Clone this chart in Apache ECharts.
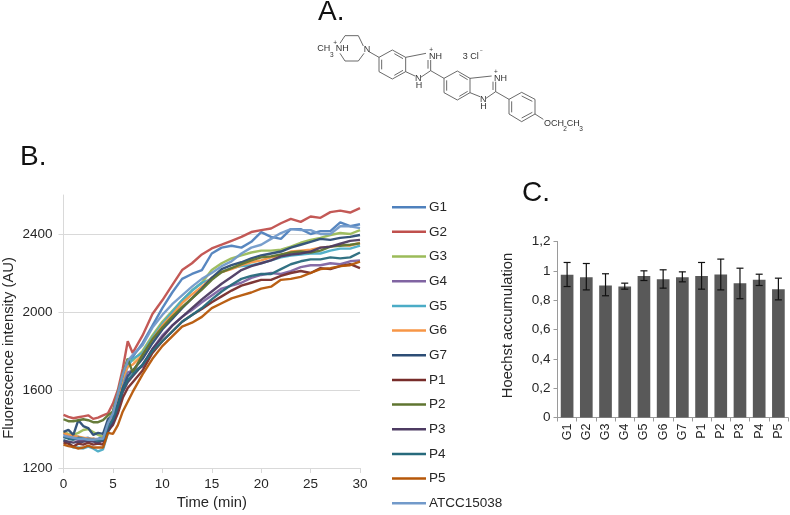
<!DOCTYPE html>
<html><head><meta charset="utf-8">
<style>html,body{margin:0;padding:0;background:#fff}#c{width:790px;height:515px}</style>
<script src="https://cdn.jsdelivr.net/npm/echarts@6/dist/echarts.min.js"></script>
</head><body><div id="c"></div>
<script>
const times=[0,.5,1,1.5,2,2.5,3,3.5,4,4.5,5,5.5,6,6.5,7,8,9,10,11,12,13,14,15,16,17,18,19,20,21,22,23,24,25,26,27,28,29,30];
const G1=[1375,1368,1362,1360,1352,1355,1345,1350,1358,1425,1475,1570,1670,1740,1770,1840,1930,2020,2100,2170,2195,2215,2300,2330,2340,2330,2360,2410,2385,2375,2425,2425,2400,2415,2415,2460,2440,2450];
const G2=[1472,1462,1455,1460,1465,1470,1452,1458,1470,1480,1530,1600,1710,1850,1790,1880,1990,2060,2138,2215,2250,2295,2326,2345,2365,2385,2410,2420,2428,2455,2478,2462,2490,2483,2512,2520,2510,2533];
const G3=[1385,1375,1370,1380,1395,1400,1385,1370,1360,1440,1490,1580,1680,1760,1750,1800,1880,1950,2005,2060,2110,2150,2215,2250,2275,2290,2305,2315,2315,2320,2335,2355,2370,2380,2395,2405,2400,2420];
const G4=[1360,1355,1350,1345,1345,1340,1350,1345,1350,1425,1470,1550,1640,1690,1700,1720,1810,1880,1930,1975,2010,2050,2085,2120,2135,2150,2175,2190,2200,2195,2210,2230,2240,2240,2250,2245,2260,2265];
const G5=[1345,1330,1305,1305,1300,1310,1300,1285,1295,1380,1440,1550,1650,1720,1760,1790,1870,1940,2000,2060,2110,2150,2170,2205,2225,2235,2240,2250,2265,2280,2290,2295,2300,2300,2315,2325,2325,2340];
const G6=[1380,1370,1365,1360,1355,1350,1350,1345,1350,1430,1475,1560,1660,1720,1730,1780,1860,1930,1985,2045,2090,2130,2175,2205,2220,2240,2255,2265,2280,2290,2310,2315,2320,2330,2335,2345,2340,2355];
const G7=[1385,1395,1370,1445,1415,1405,1370,1380,1375,1450,1470,1530,1610,1670,1700,1760,1840,1910,1965,2020,2070,2120,2175,2220,2240,2255,2275,2290,2300,2310,2330,2345,2360,2375,2370,2380,2385,2395];
const P1=[1330,1325,1310,1325,1320,1330,1320,1325,1320,1390,1420,1480,1560,1610,1640,1700,1790,1850,1900,1950,1985,2015,2050,2080,2110,2135,2150,2165,2165,2185,2200,2210,2200,2225,2220,2235,2245,2225];
const P2=[1450,1440,1440,1445,1450,1445,1435,1435,1445,1470,1490,1580,1680,1760,1690,1780,1860,1920,1975,2025,2070,2115,2165,2205,2225,2245,2265,2280,2285,2295,2305,2310,2305,2315,2335,2340,2345,2352];
const P3=[1340,1335,1330,1335,1335,1340,1335,1330,1340,1395,1430,1510,1590,1640,1670,1730,1810,1870,1930,1975,2020,2065,2105,2145,2180,2215,2235,2250,2265,2285,2295,2300,2310,2330,2335,2350,2365,2370];
const P4=[1360,1350,1345,1355,1350,1345,1345,1340,1345,1410,1450,1520,1600,1650,1680,1730,1800,1850,1900,1950,1985,2020,2065,2105,2140,2170,2185,2195,2195,2220,2245,2260,2270,2270,2280,2275,2280,2305];
const P5=[1320,1312,1308,1300,1305,1315,1305,1305,1305,1380,1375,1420,1490,1540,1590,1680,1760,1825,1875,1925,1945,1975,2020,2045,2070,2085,2100,2120,2130,2165,2170,2180,2200,2220,2225,2235,2240,2258];
const ATCC=[1365,1360,1355,1350,1350,1345,1345,1348,1350,1430,1480,1580,1680,1750,1780,1830,1920,1985,2040,2085,2130,2170,2200,2235,2260,2300,2330,2345,2375,2405,2425,2420,2420,2400,2400,2440,2440,2430];
const lineNames=['G1','G2','G3','G4','G5','G6','G7','P1','P2','P3','P4','P5','ATCC15038'];
const lineValues=[G1,G2,G3,G4,G5,G6,G7,P1,P2,P3,P4,P5,ATCC];
const lineColors=['#4F81BD','#C0504D','#9BBB59','#8064A2','#4BACC6','#F79646','#2C4D75','#772C2A','#5F7530','#4D3B62','#276A7C','#B65708','#729ACA'];
const yTicks=[1200,1600,2000,2400];
const barCats=['G1','G2','G3','G4','G5','G6','G7','P1','P2','P3','P4','P5'];
const barVals=[.973,.957,.90,.893,.965,.943,.957,.965,.975,.916,.939,.875];
const errHi=[1.057,1.05,.98,.916,1.0,1.007,.993,1.057,1.08,1.018,.977,.95];
const errLo=[.893,.87,.83,.875,.934,.882,.925,.875,.87,.81,.9,.802];

const FONT='"Liberation Sans",Arial,sans-serif';
const lineSeries=lineNames.map((n,i)=>({name:n,type:'line',xAxisIndex:0,yAxisIndex:0,symbol:'none',smooth:false,
  data:times.map((t,k)=>[t,lineValues[i][k]]),lineStyle:{width:2.4,color:lineColors[i],opacity:.95},itemStyle:{color:lineColors[i]},z:3+i}));

// Structure drawing for panel A (coordinates in a 3x sketch space)
const bonds=[[[120,130],[135,107],[175,107],[190,138]],[[192,160],[175,183],[135,183],[120,160]],[[207,155],[237,172]],
[[237,172],[277,150],[317,172],[317,215],[277,237],[237,215],[237,172]],[[283,161],[309,176]],[[309,211],[283,226]],[[245,208],[245,179]],
[[317,172],[378,160]],[[317,215],[345,228]],[[362,232],[392,212]],[[392,212],[392,180]],[[384,206],[384,180]],[[392,212],[432,235]],
[[432,235],[472,213],[510,235],[510,278],[472,300],[432,278],[432,235]],[[478,224],[503,239]],[[503,274],[478,289]],[[440,272],[440,241]],
[[510,235],[575,228]],[[510,278],[540,290]],[[558,295],[587,275]],[[587,275],[587,245]],[[579,270],[579,245]],[[587,275],[627,298]],
[[627,298],[665,277],[705,298],[705,342],[665,365],[627,342],[627,298]],[[665,288],[697,304]],[[697,337],[665,354]],[[635,337],[635,304]],[[705,342],[730,358]]];
const atoms=[['CH',52,147],['3',90,165,6.5],['+',100,130,6.5],['NH',107,147],['N',191,150],['+',388,150,6.5],['NH',387,170],['N',345,236],['H',347,258],
['3 Cl',488,170],['−',540,152,5],['+',582,217,6.5],['NH',582,237],['N',540,298],['H',541,320],['OCH',732,372],['2',790,388,6.5],['CH',800,372],['3',838,388,6.5]];
const molecule=[
 ...bonds.map(b=>({type:'polyline',shape:{points:b.map(p=>[300+p[0]/3,p[1]/3])},style:{stroke:'#444',lineWidth:.8,fill:null}})),
 ...atoms.map(a=>({type:'text',x:300+a[1]/3,y:a[2]/3,style:{text:a[0],font:(a[3]||9)+'px '+FONT,fill:'#333',textVerticalAlign:'middle'}}))
];
const panel=(t,x,y)=>({type:'text',x,y,style:{text:t,font:'28px '+FONT,fill:'#111',textVerticalAlign:'middle'}});

const axisC='#d9d9d9',txt='#262626';
const option={
 animation:false,backgroundColor:'#fff',textStyle:{fontFamily:FONT},
 legend:{data:lineNames,orient:'vertical',left:392,top:199.7,height:320,padding:0,itemWidth:34,itemHeight:2.5,itemGap:9.67,icon:'rect',
  selectedMode:false,textStyle:{fontSize:13.5,lineHeight:15,color:txt,fontFamily:FONT,padding:[0,0,0,-2]}},
 grid:[{left:63.5,top:195,width:296.5,height:273,outerBoundsMode:'none'},{left:557.5,top:241.5,width:230.5,height:176,outerBoundsMode:'none'}],
 xAxis:[
  {gridIndex:0,type:'value',min:0,max:30,interval:5,name:'Time (min)',nameLocation:'middle',nameGap:27,
   nameTextStyle:{fontSize:14.8,color:txt,fontFamily:FONT},splitLine:{show:false},
   axisLine:{lineStyle:{color:axisC}},axisTick:{show:true,length:5,lineStyle:{color:axisC}},axisLabel:{fontSize:13.5,color:txt,margin:9,fontFamily:FONT}},
  {gridIndex:1,type:'category',data:barCats,axisLine:{lineStyle:{color:'#9a9a9a'}},axisTick:{show:true,length:4,alignWithLabel:false,lineStyle:{color:'#9a9a9a'}},
   axisLabel:{fontSize:12.5,color:txt,rotate:90,margin:6,interval:0,fontFamily:FONT}}
 ],
 yAxis:[
  {gridIndex:0,type:'value',min:1200,max:2600,name:'Fluorescence intensity (AU)',nameLocation:'middle',nameGap:47,
   nameTextStyle:{fontSize:14.8,color:txt,fontFamily:FONT,padding:[0,33,0,0]},
   splitLine:{show:true,lineStyle:{color:axisC}},axisLine:{show:true,lineStyle:{color:axisC}},
   axisTick:{show:true,length:5,customValues:yTicks,lineStyle:{color:axisC}},
   axisLabel:{fontSize:13.5,color:txt,margin:11,customValues:yTicks,fontFamily:FONT,formatter:v=>String(v)}},
  {gridIndex:1,type:'value',min:0,max:1.2,interval:.2,name:'Hoechst accumulation',nameLocation:'middle',nameGap:42,
   nameTextStyle:{fontSize:14.8,color:txt,fontFamily:FONT,padding:[0,0,0,8]},splitLine:{show:false},
   axisLine:{show:true,lineStyle:{color:'#9a9a9a'}},axisTick:{show:true,length:4,lineStyle:{color:'#9a9a9a'}},
   axisLabel:{fontSize:13.5,color:txt,margin:7,fontFamily:FONT,formatter:v=>String(+v.toFixed(1)).replace('.',',')}}
 ],
 series:[...lineSeries,
  {type:'bar',xAxisIndex:1,yAxisIndex:1,data:barVals,barCategoryGap:'34%',itemStyle:{color:'#595959'},silent:true,z:2},
  {type:'custom',xAxisIndex:1,yAxisIndex:1,silent:true,z:4,data:barCats.map((c,i)=>[i,errLo[i],errHi[i]]),
   encode:{x:0,y:[1,2]},
   renderItem:(p,api)=>{const a=api.coord([api.value(0),api.value(1)]),b=api.coord([api.value(0),api.value(2)]),s={stroke:'#111',lineWidth:1.2};
    return {type:'group',children:[[a,b],[[a[0]-3.5,a[1]],[a[0]+3.5,a[1]]],[[b[0]-3.5,b[1]],[b[0]+3.5,b[1]]]].map(l=>({type:'line',shape:{x1:l[0][0],y1:l[0][1],x2:l[1][0],y2:l[1][1]},style:s}))};}}
 ],
 graphic:[panel('A.',318,12),panel('B.',20,157),panel('C.',522,193),...molecule]
};
echarts.init(document.getElementById('c'),null,{renderer:'canvas'}).setOption(option);
</script></body></html>
